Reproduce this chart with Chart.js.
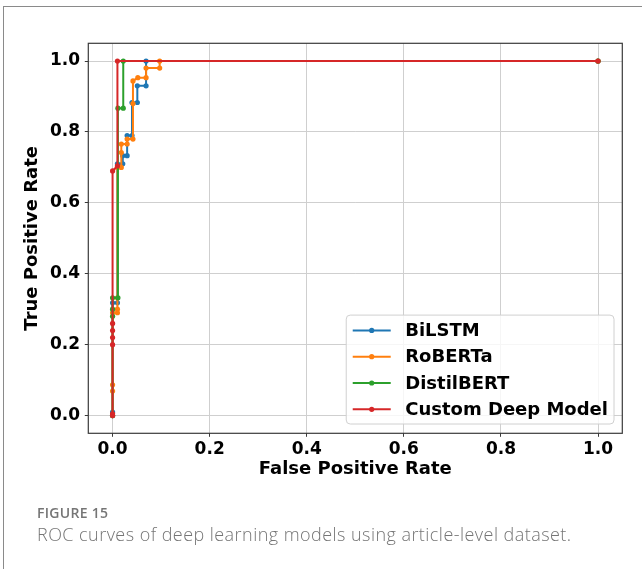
<!DOCTYPE html>
<html>
<head>
<meta charset="utf-8">
<script src="https://cdn.jsdelivr.net/npm/chart.js@4"></script>
<style>
  html, body { margin: 0; padding: 0; background: #fff; }
  body { width: 642px; height: 569px; position: relative; overflow: hidden; }
  #frame { position: absolute; left: 3px; top: 6px; width: 700px; height: 700px;
           border-left: 1.5px solid #8a8a8a; border-top: 1.5px solid #8a8a8a; }
  #roc { position: absolute; left: 0; top: 0; }
  .cap { position: absolute; left: 37px; font-family: "Open Sans", "Noto Sans", sans-serif; color: #757575; white-space: nowrap; }
  #fig { top: 506px; font-size: 14px; font-weight: 600; line-height: 14px; letter-spacing: 0.3px; }
  #desc { top: 525px; font-size: 18px; font-weight: 300; line-height: 18px; letter-spacing: 0.45px; }
</style>
</head>
<body>
<div id="frame"></div>
<canvas id="roc" width="642" height="569"></canvas>
<div class="cap" id="fig">FIGURE 15</div>
<div class="cap" id="desc">ROC curves of deep learning models using article-level dataset.</div>
<script>
// ROC curve points (false positive rate / true positive rate) per model
const modelNames = ['BiLSTM', 'RoBERTa', 'DistilBERT', 'Custom Deep Model'];
const modelColors = ['#1f77b4', '#ff7f0e', '#2ca02c', '#d62728'];

const bilstmFpr = [0, 0, 0, 0.01, 0.01, 0.021, 0.021, 0.03, 0.03, 0.04, 0.04, 0.051, 0.051, 0.069, 0.069, 1];
const bilstmTpr = [0, 0.01, 0.318, 0.318, 0.71, 0.71, 0.733, 0.733, 0.79, 0.79, 0.883, 0.883, 0.93, 0.93, 1, 1];

const robertaFpr = [0, 0, 0, 0, 0.01, 0.01, 0.01, 0.01, 0.018, 0.018, 0.018, 0.03, 0.03, 0.042, 0.042, 0.042, 0.052, 0.069, 0.069, 0.097, 0.097, 1];
const robertaTpr = [0, 0.069, 0.087, 0.29, 0.29, 0.30, 0.332, 0.70, 0.70, 0.742, 0.766, 0.766, 0.78, 0.78, 0.88, 0.944, 0.953, 0.953, 0.98, 0.98, 1, 1];

const distilFpr = [0, 0, 0, 0, 0.011, 0.011, 0.022, 0.022, 1];
const distilTpr = [0, 0.28, 0.30, 0.332, 0.332, 0.867, 0.867, 1, 1];

const customFpr = [0, 0, 0, 0, 0, 0, 0, 0.01, 0.01, 1];
const customTpr = [0, 0.005, 0.2, 0.22, 0.24, 0.26, 0.69, 0.704, 1, 1];

const xTicks = [0, 0.2, 0.4, 0.6, 0.8, 1.0];
const yTicks = [0, 0.2, 0.4, 0.6, 0.8, 1.0];

const fprSets = [bilstmFpr, robertaFpr, distilFpr, customFpr];
const tprSets = [bilstmTpr, robertaTpr, distilTpr, customTpr];

const boldFont = 'DejaVu Sans';

const datasets = modelNames.map((name, i) => ({
  label: name,
  data: fprSets[i].map((x, k) => ({ x: x, y: tprSets[i][k] })),
  borderColor: modelColors[i],
  backgroundColor: modelColors[i],
  borderWidth: 2,
  pointRadius: 2.6,
  pointBorderWidth: 0,
  pointHoverRadius: 2.6,
  showLine: true,
  fill: false,
  tension: 0,
  order: modelNames.length - i   // later models are drawn on top
}));

// Black frame around the plotting area
const framePlugin = {
  id: 'frame',
  afterDatasetsDraw(chart) {
    const a = chart.chartArea, ctx = chart.ctx;
    ctx.save();
    ctx.strokeStyle = '#3a3a3a';
    ctx.lineWidth = 1.2;
    ctx.strokeRect(a.left, a.top, a.right - a.left, a.bottom - a.top);
    ctx.restore();
  }
};

// Legend box drawn inside the lower-right corner of the plotting area
const insideLegend = {
  id: 'insideLegend',
  afterDraw(chart) {
    const a = chart.chartArea, ctx = chart.ctx;
    ctx.save();
    ctx.font = 'bold 18px "' + boldFont + '"';
    const textW = Math.max(...chart.data.datasets.map(d => ctx.measureText(d.label).width));
    const rowH = 26.3;
    const n = chart.data.datasets.length;
    const boxW = 59 + textW + 6;
    const boxH = 30 + rowH * (n - 1);
    const right = a.right - 8.3;
    const bottom = a.bottom - 9.3;
    const left = right - boxW;
    const top = bottom - boxH;
    ctx.beginPath();
    ctx.roundRect(left, top, boxW, boxH, 4);
    ctx.fillStyle = 'rgba(255,255,255,0.8)';
    ctx.fill();
    ctx.strokeStyle = '#d0d0d0';
    ctx.lineWidth = 1;
    ctx.stroke();
    chart.data.datasets.forEach((d, i) => {
      const cy = top + 15.3 + i * rowH;
      ctx.strokeStyle = d.borderColor;
      ctx.lineWidth = 2;
      ctx.beginPath();
      ctx.moveTo(left + 6.5, cy);
      ctx.lineTo(left + 44.5, cy);
      ctx.stroke();
      ctx.fillStyle = d.borderColor;
      ctx.beginPath();
      ctx.arc(left + 25.5, cy, 2.6, 0, Math.PI * 2);
      ctx.fill();
      ctx.fillStyle = '#000';
      ctx.textBaseline = 'middle';
      ctx.textAlign = 'left';
      ctx.fillText(d.label, left + 59, cy + 1);
    });
    ctx.restore();
  }
};

const tickFont = { family: boldFont, size: 17, weight: 'bold' };
const titleFont = { family: boldFont, size: 18, weight: 'bold' };

new Chart(document.getElementById('roc'), {
  type: 'scatter',
  data: { datasets: datasets },
  options: {
    responsive: false,
    animation: false,
    devicePixelRatio: 1,
    layout: { padding: { top: 43.3, right: 19.7, left: 0, bottom: 0 } },
    plugins: { legend: { display: false }, tooltip: { enabled: false } },
    scales: {
      x: {
        type: 'linear',
        min: -0.05, max: 1.05,
        afterBuildTicks(scale) { scale.ticks = xTicks.map(v => ({ value: v })); },
        afterFit(scale) { scale.height = 569 - 433.3; },
        ticks: { font: tickFont, color: '#000', padding: 3, maxRotation: 0,
                 callback: v => v.toFixed(1) },
        grid: { color: '#cfcfcf', lineWidth: 1, tickLength: 3.5, tickColor: '#3a3a3a', tickWidth: 1 },
        border: { display: false },
        title: { display: true, text: 'False Positive Rate', font: titleFont, color: '#000',
                 padding: { top: 0, bottom: 88.8 } }
      },
      y: {
        type: 'linear',
        min: -0.05, max: 1.05,
        afterBuildTicks(scale) { scale.ticks = yTicks.map(v => ({ value: v })); },
        afterFit(scale) { scale.width = 88.3; },
        ticks: { font: tickFont, color: '#000', padding: 4.8,
                 callback: v => v.toFixed(1) },
        grid: { color: '#cfcfcf', lineWidth: 1, tickLength: 3.5, tickColor: '#3a3a3a', tickWidth: 1 },
        border: { display: false },
        title: { display: true, text: 'True Positive Rate', font: titleFont, color: '#000',
                 padding: { top: 21.8, bottom: 0 } }
      }
    }
  },
  plugins: [framePlugin, insideLegend]
});
</script>
</body>
</html>
